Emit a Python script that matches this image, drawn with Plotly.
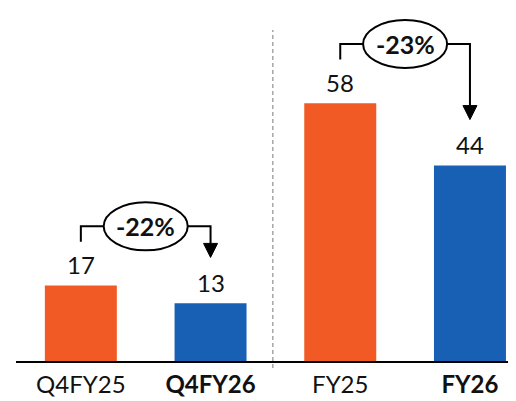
import plotly.graph_objects as go

# ---- data ----
categories = ["Q4FY25", "Q4FY26", "FY25", "FY26"]
tick_labels = ["Q4FY25", "<b>Q4FY26</b>", "FY25", "<b>FY26</b>"]
values = [17, 13, 58, 44]
bar_colors = ["#F15A24", "#1860B4", "#F15A24", "#1860B4"]
pairs = [(0, 1), (2, 3)]
change_labels = ["-22%", "-23%"]

FONT = "Lato"
TXT = "#111111"

xs = list(range(len(categories)))

# page body has 8px margin -> figure 508x393 fills the 516x401 window
W, H = 508, 393
ML, MR, MT, MB = 8, 0, 0, 40
plot_h = H - MT - MB
K = 4.446  # px per unit
ytop = plot_h / K

fig = go.Figure()
fig.add_trace(go.Bar(
    x=xs, y=values, width=0.555,
    marker=dict(color=bar_colors, line=dict(width=0)),
    hoverinfo="skip",
))

shapes = []
annotations = []

# value labels
for x, v in zip(xs, values):
    annotations.append(dict(x=x, y=v, xref="x", yref="y", text=str(v),
                            showarrow=False, yanchor="bottom", yshift=4,
                            font=dict(family=FONT, size=24, color=TXT)))

# separator
shapes.append(dict(type="line", xref="x", yref="paper", x0=1.48, x1=1.48,
                   y0=-7 / plot_h, y1=331 / plot_h,
                   line=dict(color="#A6A6A6", width=1.5, dash="4px,3px")))

# change brackets
for (i, j), lab in zip(pairs, change_labels):
    vi, vj = values[i], values[j]
    y_start = vi + 9.8
    y_h = vi + 13.3
    tip = vj + 10.3
    head = 3.15
    hw = 0.054
    shapes.append(dict(type="path", xref="x", yref="y",
                       path=f"M {i},{y_start} L {i},{y_h} L {j},{y_h} L {j},{tip + head}",
                       line=dict(color="black", width=2)))
    shapes.append(dict(type="path", xref="x", yref="y",
                       path=f"M {j - hw},{tip + head} L {j + hw},{tip + head} L {j},{tip} Z",
                       fillcolor="black", line=dict(color="black", width=1)))
    cx = (i + j) / 2
    shapes.append(dict(type="circle", xref="x", yref="y",
                       x0=cx - 0.324, x1=cx + 0.324, y0=y_h - 5.4, y1=y_h + 5.4,
                       fillcolor="white", line=dict(color="black", width=2)))
    annotations.append(dict(x=cx, y=y_h, xref="x", yref="y", text=f"<b>{lab}</b>",
                            showarrow=False,
                            font=dict(family=FONT, size=25, color=TXT)))

fig.update_layout(
    width=W, height=H,
    margin=dict(l=ML, r=MR, t=MT, b=MB, autoexpand=False),
    paper_bgcolor="white", plot_bgcolor="white",
    showlegend=False,
    shapes=shapes, annotations=annotations,
    xaxis=dict(range=[-0.5, 3.355], tickvals=xs, ticktext=tick_labels,
               showline=True, linecolor="black", linewidth=2,
               showgrid=False, zeroline=False, ticks="",
               ticklabelstandoff=1, automargin=False,
               tickfont=dict(family=FONT, size=24, color=TXT)),
    yaxis=dict(range=[0, ytop], visible=False, showgrid=False, zeroline=False),
)

fig.write_html("out.html")
